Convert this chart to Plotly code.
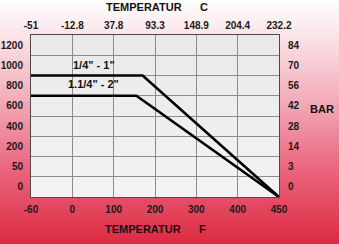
import base64
import numpy as np
import plotly.graph_objects as go

# ---------------- data ----------------
temp_f_labels = ["-60", "0", "100", "200", "300", "400", "450"]
temp_c_labels = ["-51", "-12.8", "37.8", "93.3", "148.9", "204.4", "232.2"]
psi_labels = ["0", "50", "200", "400", "600", "800", "1000", "1200"]
bar_labels = ["0", "3", "14", "28", "42", "56", "70", "84"]

series_names = ['1/4" - 1"', '1.1/4" - 2"']
series_temp_f = [[-60, 170, 450], [-60, 155, 450]]
series_psi = [[1000, 1000, 0], [800, 800, 0]]

# ---------------- scales (evenly spaced tick scale) ----------------
f_vals = [float(v) for v in temp_f_labels]
psi_vals = [float(v) for v in psi_labels]


def fpos(v):
    return np.interp(v, f_vals, np.arange(len(f_vals)))


def ppos(v):
    return np.interp(v, psi_vals, np.arange(len(psi_vals)))


W, H = 339, 244
ML, MR, MT, MB = 31, 60, 35, 47
PW, PH = W - ML - MR, H - MT - MB

FONT = "Liberation Sans, Arial, sans-serif"
tick_font = dict(family=FONT, size=10, color="#1a1a1a", weight=700)
HID = "rgba(0,0,0,0)"

svg = f"""<svg xmlns='http://www.w3.org/2000/svg' width='{W}' height='{H}' viewBox='0 0 {W} {H}' preserveAspectRatio='none'>
<defs>
<linearGradient id='g' x1='0' y1='0' x2='0' y2='1'>
<stop offset='0' stop-color='#fefefe'/>
<stop offset='0.15' stop-color='#fbe3e8'/>
<stop offset='0.4' stop-color='#f3aebb'/>
<stop offset='0.68' stop-color='#ea6880'/>
<stop offset='1' stop-color='#dd2a42'/>
</linearGradient>
<linearGradient id='p' x1='0' y1='0' x2='0' y2='1'>
<stop offset='0' stop-color='#e9e9e9'/>
<stop offset='1' stop-color='#f3f3f3'/>
</linearGradient>
</defs>
<rect x='0' y='0' width='{W}' height='{H}' fill='url(#g)'/>
<rect x='{ML}' y='{MT}' width='{PW}' height='{PH}' fill='url(#p)'/>
</svg>"""
src = "data:image/svg+xml;base64," + base64.b64encode(svg.encode()).decode()

fig = go.Figure()
for name, tf, ps in zip(series_names, series_temp_f, series_psi):
    fig.add_trace(go.Scatter(
        x=fpos(tf), y=ppos(ps), mode="lines", name=name,
        line=dict(color="#000000", width=2.6), cliponaxis=False,
        showlegend=False, hoverinfo="skip",
    ))

nx = len(temp_f_labels) - 1
ny = len(psi_labels)

fig.update_layout(
    width=W, height=H,
    margin=dict(l=ML, r=MR, t=MT, b=MB, pad=0, autoexpand=False),
    paper_bgcolor="#ffffff",
    plot_bgcolor="rgba(0,0,0,0)",
    images=[dict(source=src, xref="paper", yref="paper",
                 x=-ML / PW, y=1 + MT / PH, sizex=W / PW, sizey=H / PH,
                 xanchor="left", yanchor="top", sizing="stretch", layer="below")],
    xaxis=dict(range=[0, nx], tickvals=list(range(nx + 1)), ticktext=temp_f_labels,
               showgrid=True, gridcolor="#8c8c8c", gridwidth=1, zeroline=False,
               showline=True, mirror=True, linecolor="#4a4a4a", linewidth=1,
               ticks="outside", ticklen=3, tickcolor=HID, tickfont=tick_font,
               automargin=False, fixedrange=True),
    xaxis2=dict(range=[0, nx], overlaying="x", side="top",
                tickvals=list(range(nx + 1)), ticktext=temp_c_labels,
                showgrid=False, zeroline=False, showline=False,
                ticks="outside", ticklen=1, tickcolor=HID,
                tickfont=tick_font, automargin=False),
    yaxis=dict(range=[0, ny], tickvals=list(range(ny + 1)), showticklabels=False,
               showgrid=True, gridcolor="#8c8c8c", gridwidth=1, zeroline=False,
               showline=True, mirror=True, linecolor="#4a4a4a", linewidth=1,
               ticks="", automargin=False),
    yaxis2=dict(range=[0, ny], overlaying="y", side="right",
                tickvals=[i + 0.5 for i in range(ny)], ticktext=bar_labels,
                showgrid=False, zeroline=False, showline=False,
                ticks="outside", ticklen=6, tickcolor=HID,
                tickfont=tick_font, automargin=False),
    yaxis3=dict(range=[0, ny], overlaying="y", side="left",
                tickvals=[i + 0.5 for i in range(ny)], ticktext=psi_labels,
                showgrid=False, zeroline=False, showline=False,
                ticks="outside", ticklen=5, tickcolor=HID,
                tickfont=tick_font, automargin=False),
)

# dummy traces to activate the extra axes
fig.add_trace(go.Scatter(x=[None], y=[None], xaxis="x2", yaxis="y2", showlegend=False))
fig.add_trace(go.Scatter(x=[None], y=[None], xaxis="x", yaxis="y3", showlegend=False))

title_font = dict(family=FONT, size=11, color="#111111", weight=700)


def px_x(p):
    return (p - ML) / PW


def px_y(p):
    return 1 - (p - MT) / PH


ann = [
    ("TEMPERATUR", 144, 7), ("C", 203.5, 7),
    ("TEMPERATUR", 143, 229), ("F", 202.5, 229),
    ("BAR", 322, 109),
]
for t, x, y in ann:
    fig.add_annotation(text=t, x=px_x(x), y=px_y(y), xref="paper", yref="paper",
                       showarrow=False, font=title_font, xanchor="center", yanchor="middle")

for name, x, y in zip(series_names, [94, 93], [65, 84]):
    fig.add_annotation(text=name, x=px_x(x), y=px_y(y), xref="paper", yref="paper",
                       showarrow=False, font=title_font, xanchor="center", yanchor="middle")

fig.write_html("out.html")
